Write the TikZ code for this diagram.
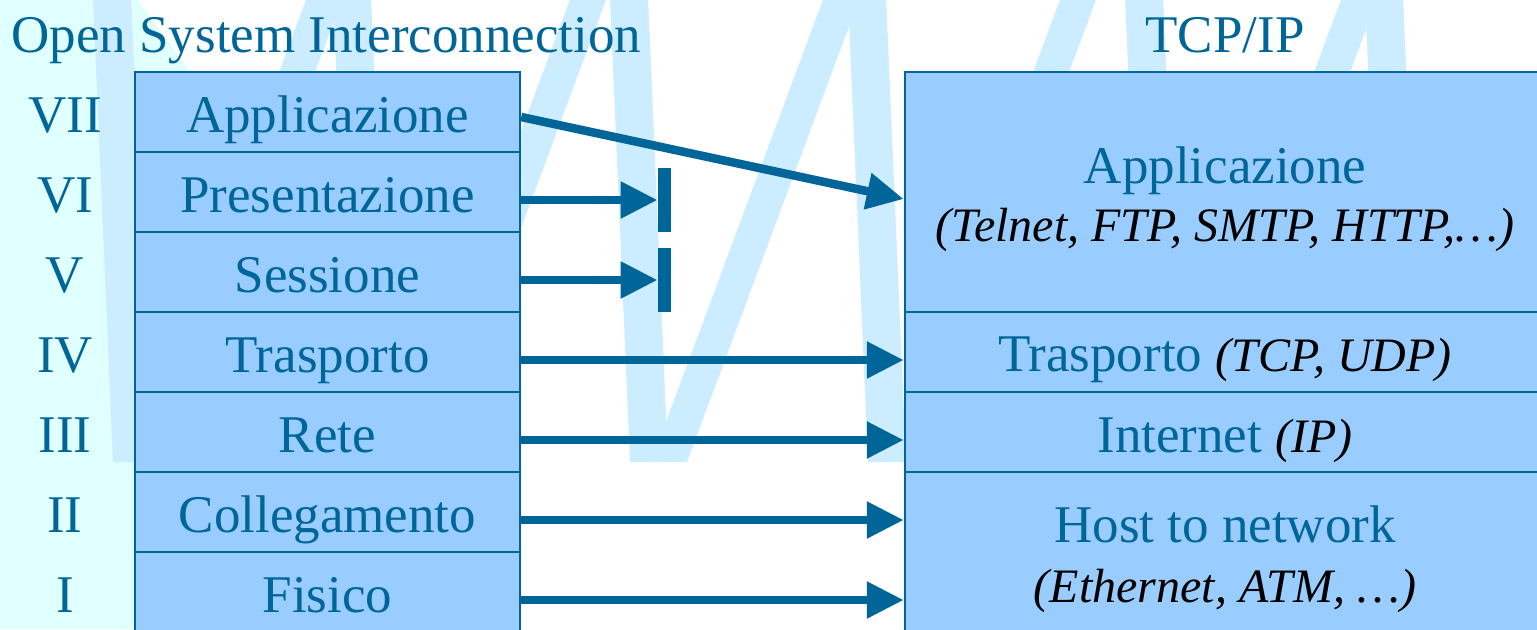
\documentclass[tikz,border=0pt]{standalone}
\usepackage{fontspec}
\setmainfont{Liberation Serif}
\usetikzlibrary{arrows.meta}
\definecolor{dk}{HTML}{006699}
\definecolor{boxfill}{HTML}{99CCFF}
\definecolor{wm}{HTML}{CCECFF}
\definecolor{cy}{HTML}{E0FFFF}
\newcommand{\fontreg}{\fontsize{26.5pt}{30pt}\selectfont}
\newcommand{\fontitl}{\fontsize{24pt}{28pt}\selectfont\itshape\color{black}}
\begin{document}
\begin{tikzpicture}[x=0.5pt,y=-0.5pt,
  row/.style={draw=dk, line width=1.25pt, fill=boxfill, inner sep=0pt,
    minimum width=192.5pt, minimum height=40pt, text=dk, font=\fontreg,
    text height=22pt, text depth=2pt},
  rbox/.style={draw=dk, line width=1.25pt, fill=boxfill, inner sep=0pt,
    minimum width=320pt},
  lbl/.style={anchor=base, text=dk, font=\fontreg, inner sep=0pt},
  bar/.style={fill=dk, inner sep=0pt, minimum width=6.5pt, minimum height=32pt},
  arr/.style={draw=dk, line width=4.25pt, -{Triangle[length=18.5pt,width=17.5pt]}}]
\useasboundingbox (0,0) rectangle (1537,629);
\fill[white] (0,0) rectangle (1537,629);
% background strip
\fill[cy] (0,0) -- (138,0) -- (190,72) -- (190,629) -- (0,629) -- cycle;
% watermark strokes
\foreach \t in {93,333,610,848,1125,1365}
  \fill[wm] (\t,-3) -- (\t+38,-3) -- (\t+58,462) -- (\t+20,462) -- cycle;
\foreach \s in {306,570,823,1060,1341}
  \fill[wm] (\s+1,-3) -- (\s+37,-3) -- (\s+36-172,462) -- (\s-172,462) -- cycle;
% titles
\node[lbl, anchor=base west] (osi) at (11,52) {Open System Interconnection};
\node[lbl] (tcpip) at (1225,52) {TCP/IP};
% left stack
\node[row] (l7) at (327.5,112) {Applicazione};
\node[row] (l6) at (327.5,192) {Presentazione};
\node[row] (l5) at (327.5,272) {Sessione};
\node[row] (l4) at (327.5,352) {Trasporto};
\node[row] (l3) at (327.5,432) {Rete};
\node[row] (l2) at (327.5,512) {Collegamento};
\node[row] (l1) at (327.5,592) {Fisico};
% numerals
\node[lbl] (n7) at (65,132) {VII};
\node[lbl] (n6) at (65,212) {VI};
\node[lbl] (n5) at (65,292) {V};
\node[lbl] (n4) at (65,372) {IV};
\node[lbl] (n3) at (65,452) {III};
\node[lbl] (n2) at (65,532) {II};
\node[lbl] (n1) at (65,612) {I};
% right stack
\node[rbox, minimum height=120pt] (rapp) at (1225,192) {};
\node[rbox, minimum height=40pt] (rtra) at (1225,352) {};
\node[rbox, minimum height=40pt] (rint) at (1225,432) {};
\node[rbox, minimum height=80pt] (rhost) at (1225,552) {};
\node[lbl] (tapp) at (1225,183) {Applicazione};
\node[lbl] (tapp2) at (1225,241) {\fontitl (Telnet, FTP, SMTP, HTTP,…)};
\node[lbl] (ttra) at (1225,371) {Trasporto {\fontitl (TCP, UDP)}};
\node[lbl] (tint) at (1225,452) {Internet {\fontitl (IP)}};
\node[lbl] (thost) at (1225,542) {Host to network};
\node[lbl] (thost2) at (1225,602) {\fontitl (Ethernet, ATM, …)};
% bars
\node[bar] (bar6) at (664.5,200) {};
\node[bar] (bar5) at (664.5,280) {};
% arrows
\draw[arr] ([yshift=-2.5pt]l7.east) -- ([yshift=-3.5pt]rapp.west);
\draw[arr] ([yshift=-4pt]l6.east) -- (bar6.west);
\draw[arr] ([yshift=-4pt]l5.east) -- (bar5.west);
\draw[arr] ([yshift=-4pt]l4.east) -- ([yshift=-4pt]rtra.west);
\draw[arr] ([yshift=-4pt]l3.east) -- ([yshift=-4pt]rint.west);
\draw[arr] ([yshift=-4pt]l2.east) -- ([yshift=16pt]rhost.west);
\draw[arr] ([yshift=-4pt]l1.east) -- ([yshift=-24pt]rhost.west);
\end{tikzpicture}
\end{document}
